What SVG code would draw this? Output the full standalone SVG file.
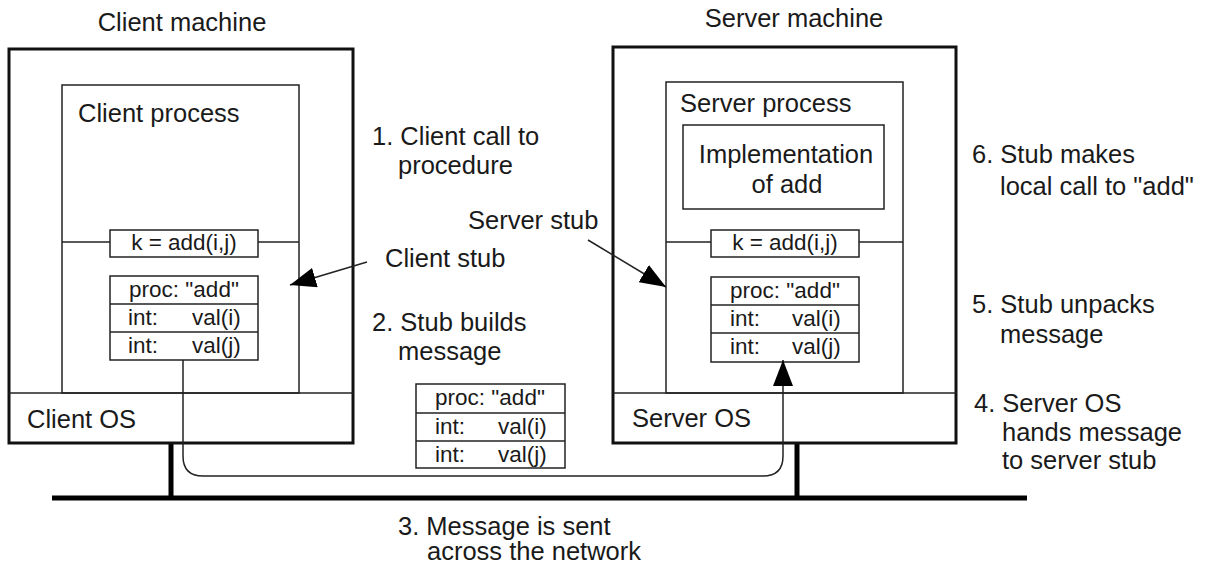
<svg xmlns="http://www.w3.org/2000/svg" width="1206" height="572" viewBox="0 0 1206 572">
<style>
text{font-family:"Liberation Sans",Arial,sans-serif;fill:#1a1a1a}
.lg{font-size:25.5px}
.sm{font-size:22.5px}
.mid{text-anchor:middle}
.machine{fill:none;stroke:#111;stroke-width:3}
.box{fill:none;stroke:#222;stroke-width:1.5}
.thin{fill:none;stroke:#222;stroke-width:1.5}
.bus{fill:none;stroke:#000;stroke-width:5}
</style>
<defs>
<marker id="ah" viewBox="0 0 26 20" refX="26" refY="10" markerWidth="26" markerHeight="20" markerUnits="userSpaceOnUse" orient="auto">
<path d="M0,0 L26,10 L0,20 z" fill="#000"/>
</marker>
</defs>
<rect width="1206" height="572" fill="#fff"/>

<g id="network">
<line class="bus" x1="52" y1="498" x2="1027" y2="498"/>
<line class="bus" x1="171" y1="443" x2="171" y2="498"/>
<line class="bus" x1="797" y1="443" x2="797" y2="498"/>
</g>

<g id="client-machine">
<text class="lg mid" x="182" y="31">Client machine</text>
<rect class="machine" x="9" y="49" width="344" height="394"/>
</g>
<g id="client-os">
<line class="thin" x1="9" y1="393" x2="353" y2="393"/>
<text class="lg" x="27" y="428">Client OS</text>
</g>
<g id="client-process">
<rect class="box" x="62" y="85" width="237" height="308"/>
<text class="lg" x="78" y="122">Client process</text>
</g>
<g id="client-call">
<line class="thin" x1="62" y1="242" x2="110" y2="242"/>
<line class="thin" x1="258" y1="242" x2="299" y2="242"/>
<rect class="box" x="110" y="230" width="148" height="27"/>
<text class="sm mid" x="184" y="250">k = add(i,j)</text>
</g>
<g id="client-message">
<rect class="box" x="110" y="276" width="148" height="84"/>
<line class="thin" x1="110" y1="304" x2="258" y2="304"/>
<line class="thin" x1="110" y1="332" x2="258" y2="332"/>
<text class="sm mid" x="184" y="297">proc: "add"</text>
<text class="sm" x="128" y="325">int:</text>
<text class="sm" x="192" y="325">val(i)</text>
<text class="sm" x="128" y="353">int:</text>
<text class="sm" x="192" y="353">val(j)</text>
</g>

<g id="server-machine">
<text class="lg mid" x="794" y="27">Server machine</text>
<rect class="machine" x="613" y="47" width="343" height="396"/>
</g>
<g id="server-os">
<line class="thin" x1="613" y1="393" x2="956" y2="393"/>
<text class="lg" x="632" y="427">Server OS</text>
</g>
<g id="server-process">
<rect class="box" x="666" y="82" width="237" height="311"/>
<text class="lg" x="680" y="112">Server process</text>
</g>
<g id="implementation">
<rect class="box" x="683" y="125" width="201" height="84"/>
<text class="lg mid" x="786" y="163">Implementation</text>
<text class="lg mid" x="787" y="193">of add</text>
</g>
<g id="server-call">
<line class="thin" x1="666" y1="242" x2="711" y2="242"/>
<line class="thin" x1="859" y1="242" x2="903" y2="242"/>
<rect class="box" x="711" y="230" width="148" height="27"/>
<text class="sm mid" x="785" y="250">k = add(i,j)</text>
</g>
<g id="server-message">
<rect class="box" x="711" y="277" width="148" height="85"/>
<line class="thin" x1="711" y1="305" x2="859" y2="305"/>
<line class="thin" x1="711" y1="333" x2="859" y2="333"/>
<text class="sm mid" x="785" y="298">proc: "add"</text>
<text class="sm" x="730" y="326">int:</text>
<text class="sm" x="792" y="326">val(i)</text>
<text class="sm" x="730" y="354">int:</text>
<text class="sm" x="792" y="354">val(j)</text>
</g>

<g id="network-message">
<rect class="box" x="416" y="384" width="149" height="84"/>
<line class="thin" x1="416" y1="413" x2="565" y2="413"/>
<line class="thin" x1="416" y1="441" x2="565" y2="441"/>
<text class="sm mid" x="490" y="405">proc: "add"</text>
<text class="sm" x="435" y="434">int:</text>
<text class="sm" x="498" y="434">val(i)</text>
<text class="sm" x="435" y="462">int:</text>
<text class="sm" x="498" y="462">val(j)</text>
</g>

<g id="labels">
<text class="lg" x="372" y="145">1. Client call to</text>
<text class="lg" x="398" y="174">procedure</text>
<text class="lg" x="468" y="229">Server stub</text>
<text class="lg" x="385" y="267">Client stub</text>
<text class="lg" x="372" y="331">2. Stub builds</text>
<text class="lg" x="398" y="360">message</text>
<text class="lg" x="398" y="535">3. Message is sent</text>
<text class="lg" x="427" y="560">across the network</text>
<text class="lg" x="972" y="163">6. Stub makes</text>
<text class="lg" x="1000" y="195">local call to "add"</text>
<text class="lg" x="972" y="313">5. Stub unpacks</text>
<text class="lg" x="1000" y="343">message</text>
<text class="lg" x="974" y="412">4. Server OS</text>
<text class="lg" x="1002" y="441">hands message</text>
<text class="lg" x="1002" y="469">to server stub</text>
</g>

<g id="connectors">
<line class="thin" x1="367" y1="262" x2="290" y2="285" marker-end="url(#ah)"/>
<line class="thin" x1="588" y1="240" x2="666" y2="287" marker-end="url(#ah)"/>
<path class="thin" d="M183,360 V456 Q183,476 203,476 H763 Q783,476 783,456 V360" marker-end="url(#ah)"/>
</g>
</svg>
